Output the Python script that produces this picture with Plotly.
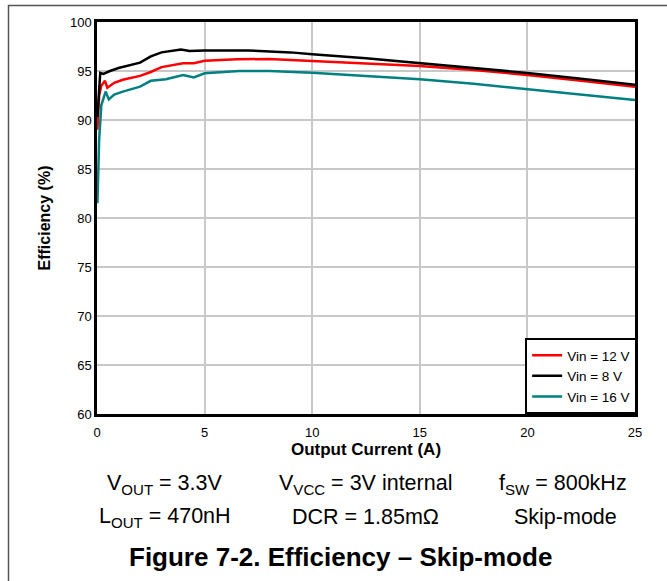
import plotly.graph_objects as go

# Output current (A) and efficiency (%) for each input voltage
i_12 = [0.02, 0.1, 0.2, 0.37, 0.48, 0.8, 1.2, 2.0, 2.5, 3.0, 4.0, 4.5, 5.0, 6.5, 8.0, 10.0, 12.5, 15.0, 17.5, 20.0, 22.5, 25.0]
eff_12 = [89.0, 92.5, 93.5, 94.0, 93.3, 93.8, 94.1, 94.5, 94.9, 95.4, 95.8, 95.8, 96.05, 96.2, 96.22, 96.0, 95.8, 95.5, 95.1, 94.6, 94.0, 93.4]

i_8 = [0.02, 0.15, 0.3, 0.6, 1.0, 1.5, 2.0, 2.5, 3.0, 3.9, 4.3, 5.0, 7.0, 9.0, 10.0, 12.5, 15.0, 17.5, 20.0, 22.5, 25.0]
eff_8 = [90.3, 94.8, 94.7, 95.0, 95.3, 95.6, 95.85, 96.5, 96.9, 97.2, 97.05, 97.1, 97.1, 96.9, 96.7, 96.3, 95.8, 95.3, 94.8, 94.2, 93.6]

i_16 = [0.02, 0.1, 0.2, 0.4, 0.55, 0.8, 1.2, 2.0, 2.5, 3.2, 4.0, 4.5, 5.0, 6.6, 8.0, 9.4, 10.0, 12.5, 15.0, 17.5, 20.0, 22.5, 25.0]
eff_16 = [81.5, 88.0, 91.5, 92.9, 92.1, 92.6, 92.9, 93.4, 94.0, 94.15, 94.6, 94.35, 94.76, 95.0, 95.0, 94.9, 94.83, 94.5, 94.15, 93.7, 93.13, 92.6, 92.04]

x_ticks = [0, 5, 10, 15, 20, 25]
y_ticks = [60, 65, 70, 75, 80, 85, 90, 95, 100]

FONT = "Liberation Sans, Arial, sans-serif"

fig = go.Figure()
fig.add_trace(go.Scatter(x=i_12, y=eff_12, mode="lines", name="Vin = 12 V",
                         line=dict(color="#ff0000", width=2.5)))
fig.add_trace(go.Scatter(x=i_8, y=eff_8, mode="lines", name="Vin = 8 V",
                         line=dict(color="#000000", width=2.5)))
fig.add_trace(go.Scatter(x=i_16, y=eff_16, mode="lines", name="Vin = 16 V",
                         line=dict(color="#008080", width=2.5)))

fig.update_layout(
    width=667, height=581,
    margin=dict(l=97, r=32, t=22, b=167),
    plot_bgcolor="white", paper_bgcolor="white",
    font=dict(family=FONT, color="#000000", size=13),
    showlegend=True,
    legend=dict(x=1.004, y=0, xanchor="right", yanchor="bottom",
                bgcolor="white", bordercolor="#000000", borderwidth=2,
                font=dict(size=13.5, family=FONT), tracegroupgap=0,
                itemwidth=30),
    xaxis=dict(range=[0, 25], tickvals=x_ticks, ticks="", showgrid=True,
               gridcolor="#c8c8c8", gridwidth=1.5, zeroline=False,
               showline=True, linecolor="#000000", linewidth=2.5, mirror=True,
               ticklabelstandoff=5,
               title=dict(text="<b>Output Current (A)</b>", font=dict(size=17), standoff=0),
               tickfont=dict(size=13)),
    yaxis=dict(range=[60, 100], tickvals=y_ticks, ticks="", showgrid=True,
               gridcolor="#c8c8c8", gridwidth=1.5, zeroline=False,
               showline=True, linecolor="#000000", linewidth=2.5, mirror=True,
               title=dict(text="<b>Efficiency (%)</b>", font=dict(size=16), standoff=16),
               tickfont=dict(size=13)),
)

# outer frame (top and left visible)
fig.add_shape(type="rect", xref="paper", yref="paper",
              x0=(8.5 - 97) / 538, x1=(700 - 97) / 538,
              y0=(414 - 620) / 392, y1=(414 - 5.5) / 392,
              line=dict(color="#555555", width=1.5), fillcolor="rgba(0,0,0,0)",
              layer="below")

cond_row1 = ["V<sub>OUT</sub> = 3.3V", "V<sub>VCC</sub> = 3V internal", "f<sub>SW</sub> = 800kHz"]
cond_row2 = ["L<sub>OUT</sub> = 470nH", "DCR = 1.85mΩ", "Skip-mode"]
col1_px = [165, 365, 563]
col2_px = [165, 365, 565]

for txt, cx in zip(cond_row1, col1_px):
    fig.add_annotation(text=txt, xref="paper", yref="paper",
                       x=(cx - 97) / 538, y=(414 - 484.5) / 392,
                       showarrow=False, font=dict(size=21.5, family=FONT),
                       xanchor="center", yanchor="middle")
for txt, cx in zip(cond_row2, col2_px):
    fig.add_annotation(text=txt, xref="paper", yref="paper",
                       x=(cx - 97) / 538, y=(414 - 517) / 392,
                       showarrow=False, font=dict(size=21.5, family=FONT),
                       xanchor="center", yanchor="middle")

fig.add_annotation(text="<b>Figure 7-2. Efficiency – Skip-mode</b>", xref="paper", yref="paper",
                   x=(340.5 - 97) / 538, y=(414 - 557) / 392,
                   showarrow=False, font=dict(size=26, family=FONT),
                   xanchor="center", yanchor="middle")

fig.write_html("out.html", config={"displayModeBar": False},
               post_script="document.body.style.margin='0';document.body.style.padding='0';")
